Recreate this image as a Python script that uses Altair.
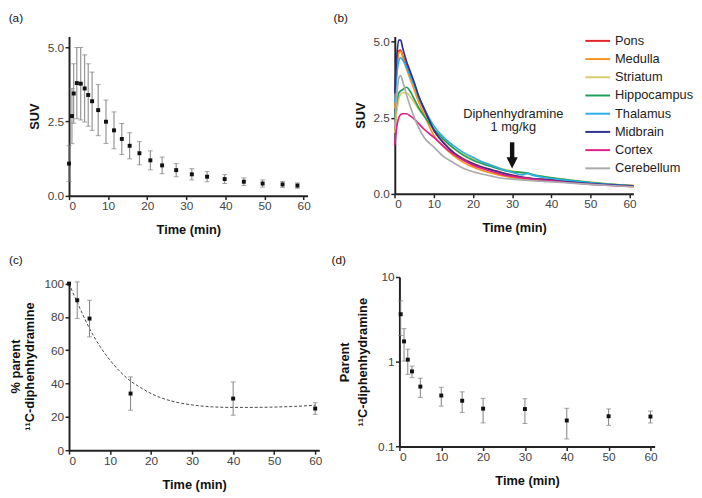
import altair as alt
import pandas as pd

FONT = "Liberation Sans"

# ---------------- Panel (a): mean SUV +/- SD ----------------
a_time = [0.0, 0.75, 1.2, 2.0, 3.0, 4.0, 4.9, 5.9, 7.45, 9.45, 11.5, 13.5, 15.5, 18.0,
          20.8, 23.8, 27.4, 31.4, 35.3, 39.8, 44.7, 49.5, 54.6, 58.4]
a_suv = [1.08, 2.68, 3.44, 3.79, 3.77, 3.61, 3.39, 3.18, 2.88, 2.49, 2.20, 1.91, 1.68, 1.43,
         1.19, 1.02, 0.86, 0.72, 0.64, 0.56, 0.47, 0.41, 0.38, 0.34]
a_err = [0.60, 0.93, 1.00, 1.20, 1.22, 1.13, 1.05, 0.98, 0.86, 0.73, 0.62, 0.52, 0.44, 0.39,
         0.32, 0.28, 0.22, 0.19, 0.17, 0.15, 0.13, 0.12, 0.10, 0.09]

# ---------------- Panel (b): regional time-activity curves ----------------
b_time = [0, 0.5, 1, 1.5, 2, 3, 4, 5, 6, 7.5, 10, 12.5, 15, 17.5, 20, 22.5, 25, 27.5,
          30, 32.5, 34, 35, 37.5, 40, 42.5, 45, 50, 55, 61]
regions = ["Pons", "Medulla", "Striatum", "Hippocampus", "Thalamus", "Midbrain", "Cortex", "Cerebellum"]
region_colors = ["#e3242b", "#f7941d", "#d6cc6a", "#1f9e5c", "#2bb0e6", "#2e3192", "#e0218a", "#a9abae"]
pons = [3.0, 4.1, 4.7, 4.72, 4.55, 4.2, 3.9, 3.6, 3.2, 2.75, 2.07, 1.68, 1.36, 1.15, 0.99, 0.87, 0.78, 0.69,
        0.61, 0.55, 0.52, 0.50, 0.48, 0.46, 0.45, 0.39, 0.35, 0.31, 0.27]
medulla = [2.8, 4.0, 4.62, 4.68, 4.5, 4.1, 3.75, 3.4, 3.05, 2.6, 1.91, 1.55, 1.25, 1.03, 0.88, 0.76, 0.67, 0.59,
           0.53, 0.49, 0.47, 0.46, 0.44, 0.42, 0.40, 0.37, 0.33, 0.29, 0.25]
striatum = [2.0, 2.7, 3.1, 3.28, 3.32, 3.32, 3.18, 3.0, 2.8, 2.55, 2.12, 1.8, 1.5, 1.3, 1.15, 1.03, 0.93, 0.82,
            0.75, 0.68, 0.66, 0.63, 0.58, 0.53, 0.49, 0.45, 0.38, 0.32, 0.27]
hippocampus = [2.5, 3.0, 3.3, 3.38, 3.42, 3.5, 3.35, 3.1, 2.85, 2.55, 2.12, 1.78, 1.5, 1.27, 1.1, 0.98, 0.88, 0.78,
               0.72, 0.70, 0.68, 0.64, 0.57, 0.52, 0.48, 0.44, 0.37, 0.31, 0.26]
thalamus = [3.0, 3.9, 4.35, 4.47, 4.4, 4.15, 3.85, 3.55, 3.2, 2.8, 2.23, 1.85, 1.58, 1.36, 1.2, 1.04, 0.92, 0.80,
            0.70, 0.62, 0.67, 0.62, 0.55, 0.50, 0.46, 0.42, 0.36, 0.30, 0.25]
midbrain = [3.3, 4.5, 5.05, 5.05, 4.8, 4.35, 4.0, 3.65, 3.25, 2.8, 2.1, 1.66, 1.35, 1.12, 0.98, 0.86, 0.77, 0.68,
            0.60, 0.54, 0.51, 0.50, 0.47, 0.44, 0.41, 0.38, 0.33, 0.29, 0.25]
cortex = [1.6, 2.2, 2.5, 2.6, 2.63, 2.63, 2.55, 2.45, 2.32, 2.12, 1.85, 1.55, 1.3, 1.1, 0.94, 0.82, 0.72, 0.63,
          0.57, 0.52, 0.50, 0.48, 0.45, 0.42, 0.39, 0.36, 0.31, 0.27, 0.23]
cerebellum = [2.2, 3.2, 3.8, 3.88, 3.7, 3.25, 2.85, 2.5, 2.2, 1.85, 1.53, 1.22, 1.02, 0.84, 0.72, 0.64, 0.57, 0.51,
              0.48, 0.45, 0.44, 0.43, 0.41, 0.39, 0.37, 0.35, 0.31, 0.27, 0.23]
b_series = [pons, medulla, striatum, hippocampus, thalamus, midbrain, cortex, cerebellum]

arrow_label = ["Diphenhydramine", "1 mg/kg"]

# ---------------- Panel (c): % parent ----------------
c_time = [0, 2, 5, 15, 40, 60]
c_pct = [100, 90, 79, 34, 31, 25]
c_err = [0, 11, 11, 10, 10, 3.5]
fit_time = [0, 2.5, 5, 7.5, 10, 12.5, 15, 17.5, 20, 25, 30, 35, 40, 45, 50, 55, 60]
fit_pct = [100, 86, 73, 62.5, 54, 47, 41.5, 37.5, 34, 29.5, 27.2, 26, 25.7, 25.7, 25.9, 26.3, 27]

# ---------------- Panel (d): parent (log) ----------------
d_time = [0.3, 1.1, 2, 3, 5, 10, 15, 20, 30, 40, 50, 60]
d_val = [3.64, 1.74, 1.06, 0.77, 0.51, 0.40, 0.347, 0.28, 0.277, 0.203, 0.228, 0.226]
d_err = [1.6, 0.72, 0.35, 0.12, 0.13, 0.10, 0.095, 0.09, 0.09, 0.08, 0.05, 0.036]

X_TICKS = [0, 10, 20, 30, 40, 50, 60]
ERR_COLOR = "#7f7f7f"


def xenc(xrange=None):
    sc = alt.Scale(domain=[0, 61], nice=False)
    if xrange is not None:
        sc = alt.Scale(domain=[0, 61], nice=False, range=xrange)
    return alt.X("t:Q", scale=sc,
                 axis=alt.Axis(values=X_TICKS, title="Time (min)", titlePadding=12))


def letter(txt, dx, dy):
    return alt.Chart(pd.DataFrame({"lab": [txt]})).mark_text(
        align="left", baseline="alphabetic", fontSize=12, color="#111", font=FONT
    ).encode(x=alt.value(dx), y=alt.value(dy), text="lab:N")


def errpanel(df, yscale, yaxis, w, h, lettertxt, lx, ly, extra=None):
    def Y(f):
        return alt.Y(f + ":Q", scale=yscale, axis=yaxis)
    base = alt.Chart(df)
    eb = df[df.e > 0]
    bars = alt.Chart(eb)
    layers = []
    if extra is not None:
        layers.append(extra)
    layers += [
        bars.mark_rule(color=ERR_COLOR, strokeWidth=1).encode(x=xenc(), y=Y("lo"), y2="hi:Q"),
        bars.mark_tick(orient="horizontal", size=5, thickness=1, color=ERR_COLOR).encode(x=xenc(), y=Y("lo")),
        bars.mark_tick(orient="horizontal", size=5, thickness=1, color=ERR_COLOR).encode(x=xenc(), y=Y("hi")),
        base.mark_square(size=16, color="#111", opacity=1, filled=True).encode(x=xenc(), y=Y("v")),
        letter(lettertxt, lx, ly),
    ]
    return alt.layer(*layers).properties(width=w, height=h)


# (a)
dfa = pd.DataFrame({"t": a_time, "v": a_suv, "e": a_err})
dfa["lo"] = dfa.v - dfa.e
dfa["hi"] = dfa.v + dfa.e
panel_a = errpanel(
    dfa,
    alt.Scale(domain=[0, 5.36], nice=False),
    alt.Axis(values=[0, 2.5, 5], format=".1f", title="SUV", titlePadding=6),
    242.4, 161.8, "(a)", -61.3, -14.5)

# (b)  -- group origin sits 4.7px right of its y axis
BX = [-4.7, 237.7]
rows = []
for name, vals in zip(regions, b_series):
    for t, v in zip(b_time, vals):
        rows.append({"t": t, "v": v, "region": name})
dfb = pd.DataFrame(rows)
yb = alt.Scale(domain=[0, 5.17], nice=False)
yb_axis = alt.Axis(values=[0, 2.5, 5], format=".1f", title="SUV", titlePadding=6, offset=4.7)
lines_b = alt.Chart(dfb).mark_line(strokeWidth=1.7, interpolate="monotone").encode(
    x=xenc(BX),
    y=alt.Y("v:Q", scale=yb, axis=yb_axis),
    color=alt.Color("region:N", sort=regions,
                    scale=alt.Scale(domain=regions, range=region_colors),
                    legend=alt.Legend(orient="none", legendX=527.2, legendY=-5.5, title=None,
                                      symbolType="M-1.4,0H1.4", symbolSize=324, symbolStrokeWidth=2,
                                      labelFontSize=13, labelFont=FONT, labelColor="#222",
                                      labelOffset=7.5, rowPadding=1.5, padding=0)),
)
arrow_df = pd.DataFrame({"t": [30.0], "top": [1.69], "bot": [1.15], "head": [1.015]})
shaft = alt.Chart(arrow_df).mark_rule(color="#111", strokeWidth=4.5).encode(
    x=xenc(BX), y=alt.Y("top:Q", scale=yb, axis=yb_axis), y2="bot:Q")
head = alt.Chart(arrow_df).mark_point(shape="M-1,-1L1,-1L0,1Z", size=130, filled=True,
                                      color="#111", opacity=1).encode(
    x=xenc(BX), y=alt.Y("head:Q", scale=yb, axis=yb_axis))
lab_df = pd.DataFrame({"t": [30.3, 30.3], "v": [2.63, 2.18], "lab": arrow_label})
labels_b = alt.Chart(lab_df).mark_text(fontSize=13, color="#222", font=FONT, align="center",
                                        baseline="middle").encode(
    x=xenc(BX), y=alt.Y("v:Q", scale=yb, axis=yb_axis), text="lab:N")
panel_b = alt.layer(lines_b, shaft, head, labels_b, letter("(b)", -67, -14.5)).properties(
    width=237.7, height=159.8)

# (c)
dfc = pd.DataFrame({"t": c_time, "v": c_pct, "e": c_err})
dfc["lo"] = dfc.v - dfc.e
dfc["hi"] = dfc.v + dfc.e
yc = alt.Scale(domain=[0, 101], nice=False, range=[176, 5])
yc_axis = alt.Axis(values=[0, 20, 40, 60, 80, 100], title=["% parent", "\u00b9\u00b9C-diphenhydramine"],
                   titlePadding=8, titleLineHeight=14)
fit_df = pd.DataFrame({"t": fit_time, "v": fit_pct})
fit_line = alt.Chart(fit_df).mark_line(strokeDash=[3, 2], strokeWidth=1, color="#444",
                                       interpolate="monotone").encode(
    x=xenc(), y=alt.Y("v:Q", scale=yc, axis=yc_axis))
panel_c = errpanel(dfc, yc, yc_axis, 254.3, 176, "(c)", -61, -12.7, extra=fit_line)

# (d)
dfd = pd.DataFrame({"t": d_time, "v": d_val, "e": d_err})
dfd["lo"] = dfd.v - dfd.e
dfd["hi"] = dfd.v + dfd.e
yd = alt.Scale(type="log", domain=[0.1, 10], nice=False)
yd_axis = alt.Axis(values=[0.1, 1, 10], format="~g", title=["Parent", "\u00b9\u00b9C-diphenhydramine"],
                   titlePadding=8, titleLineHeight=19)
panel_d = errpanel(dfd, yd, yd_axis, 259.3, 172.3, "(d)", -69, -12.7)

chart = alt.concat(panel_a, panel_b, panel_c, panel_d, columns=2,
                   spacing={"row": 82.4, "column": 80.7},
                   bounds="flush", align="each").properties(
    padding=0
).configure(font=FONT).configure_view(stroke=None).configure_axis(
    grid=False, domainColor="#222", domainWidth=2, tickColor="#222", tickWidth=1.5, tickSize=4,
    labelFont=FONT, labelFontSize=12, labelColor="#444", labelPadding=1.5,
    titleFont=FONT, titleFontSize=13, titleFontWeight="bold", titleColor="#111"
)

chart.save("out.html", embed_options={"renderer": "svg", "actions": False})
